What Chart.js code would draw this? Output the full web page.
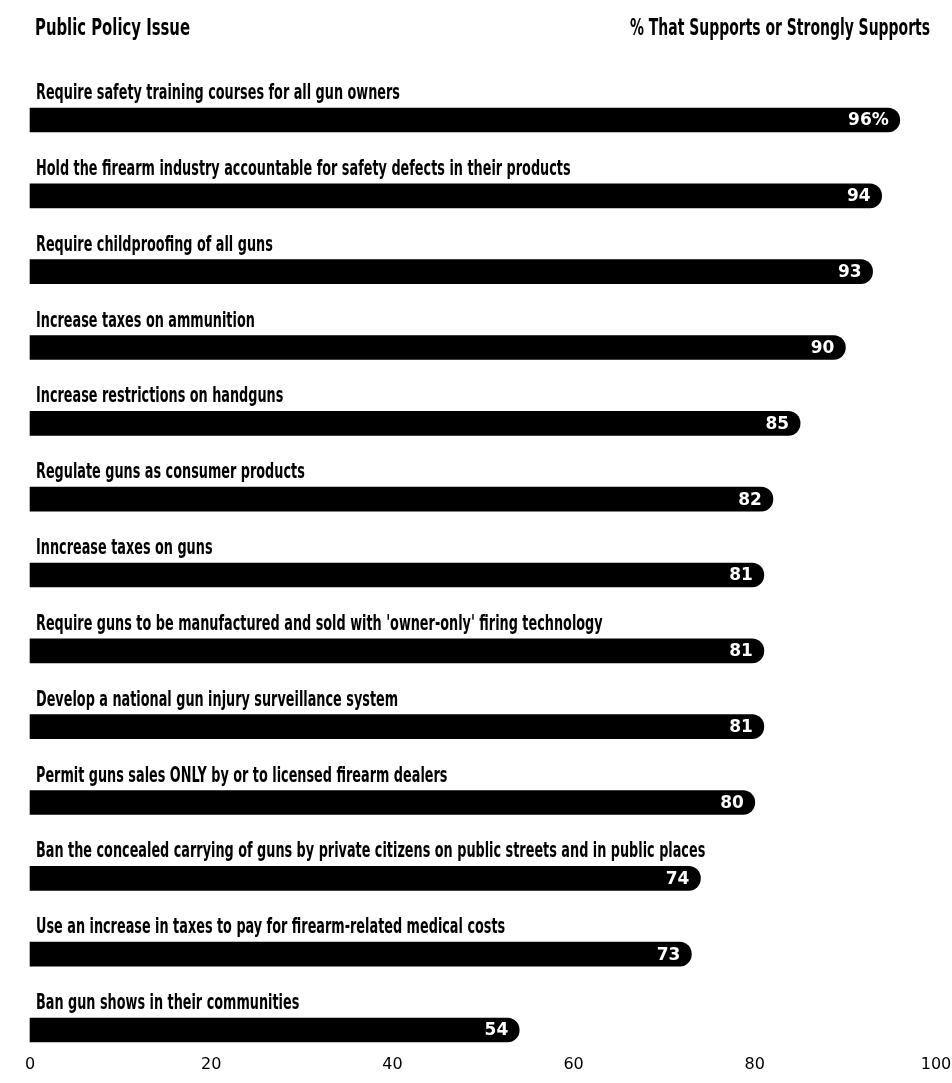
<!DOCTYPE html>
<html>
<head>
<meta charset="utf-8">
<script src="https://cdn.jsdelivr.net/npm/chart.js@4.4.1/dist/chart.umd.min.js"></script>
<style>
  html, body { margin: 0; padding: 0; background: #fff; }
  #wrap { position: relative; width: 952px; height: 1083px; }
</style>
</head>
<body>
<div id="wrap"><canvas id="c"></canvas></div>
<script>
  // datos
  const issues = [
    'Require safety training courses for all gun owners',
    'Hold the firearm industry accountable for safety defects in their products',
    'Require childproofing of all guns',
    'Increase taxes on ammunition',
    'Increase restrictions on handguns',
    'Regulate guns as consumer products',
    'Inncrease taxes on guns',
    "Require guns to be manufactured and sold with 'owner-only' firing technology",
    'Develop a national gun injury surveillance system',
    'Permit guns sales ONLY by or to licensed firearm dealers',
    'Ban the concealed carrying of guns by private citizens on public streets and in public places',
    'Use an increase in taxes to pay for firearm-related medical costs',
    'Ban gun shows in their communities'
  ];
  const support = [96, 94, 93, 90, 85, 82, 81, 81, 81, 80, 74, 73, 54];
  const xTicks = [0, 20, 40, 60, 80, 100];
  const headerLeft = 'Public Policy Issue';
  const headerRight = '% That Supports or Strongly Supports';

  const COND = '"DejaVu Sans Condensed", "Liberation Sans Narrow", sans-serif';

  // texto comprimido en horizontal (la fuente original es muy condensada)
  function drawSquashed(ctx, text, x, y, sx, align){
    ctx.save();
    ctx.translate(x, y);
    ctx.scale(sx, 1);
    ctx.textAlign = align || 'left';
    ctx.fillText(text, 0, 0);
    ctx.restore();
  }

  const textPlugin = {
    id: 'textPlugin',
    afterDatasetsDraw(chart){
      const ctx = chart.ctx;
      const y = chart.scales.y;
      ctx.save();
      ctx.fillStyle = '#000';
      ctx.textBaseline = 'alphabetic';
      // encabezados
      ctx.font = 'bold 23px ' + COND;
      let w = ctx.measureText(headerLeft).width;
      drawSquashed(ctx, headerLeft, 35, 35, 155 / w, 'left');
      w = ctx.measureText(headerRight).width;
      drawSquashed(ctx, headerRight, 930, 35, 300 / w, 'right');
      // etiquetas sobre cada barra
      ctx.font = 'bold 21px ' + COND;
      const sx = 364 / ctx.measureText(issues[0]).width;
      issues.forEach((lbl, i) => {
        const cy = y.getPixelForValue(i);
        drawSquashed(ctx, lbl, 36, cy - 21, sx, 'left');
      });
      // valores dentro de la barra
      const meta = chart.getDatasetMeta(0);
      ctx.fillStyle = '#fff';
      ctx.font = 'bold 17px "DejaVu Sans", sans-serif';
      ctx.textBaseline = 'middle';
      ctx.textAlign = 'right';
      meta.data.forEach((bar, i) => {
        ctx.fillText(support[i] + (i === 0 ? '%' : ''), bar.x - 11, bar.y + 1);
      });
      ctx.restore();
    }
  };

  new Chart(document.getElementById('c'), {
    type: 'bar',
    data: {
      labels: issues,
      datasets: [{
        data: support,
        backgroundColor: '#000',
        barThickness: 24,
        borderRadius: { topLeft: 0, bottomLeft: 0, topRight: 12, bottomRight: 12 },
        borderSkipped: false,
        clip: false
      }]
    },
    options: {
      indexAxis: 'y',
      responsive: true,
      maintainAspectRatio: false,
      animation: false,
      layout: { padding: { top: 120, bottom: 0, left: 30, right: 16 } },
      plugins: { legend: { display: false }, tooltip: { enabled: false } },
      scales: {
        x: {
          min: 0, max: 100,
          afterBuildTicks(axis){ axis.ticks = xTicks.map(v => ({ value: v })); },
          afterFit(axis){ axis.height = 53; axis.paddingLeft = 0; axis.paddingRight = 0; },
          grid: { display: false, drawTicks: false },
          border: { display: false },
          ticks: { color: '#000', font: { family: '"DejaVu Sans", sans-serif', size: 16 }, padding: 25, maxRotation: 0 }
        },
        y: {
          offset: false,
          display: false
        }
      }
    },
    plugins: [textPlugin]
  });
</script>
</body>
</html>
